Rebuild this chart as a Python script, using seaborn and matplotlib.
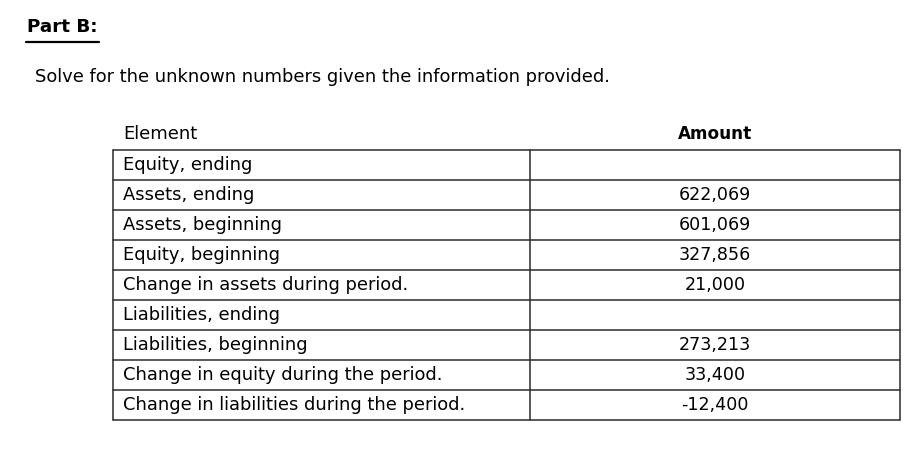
import matplotlib
matplotlib.use("Agg")
import matplotlib.pyplot as plt
import seaborn as sns

# Datos de la tabla
titulo = "Part B:"
instruccion = "Solve for the unknown numbers given the information provided."
encabezados = ["Element", "Amount"]
elementos = [
    "Equity, ending",
    "Assets, ending",
    "Assets, beginning",
    "Equity, beginning",
    "Change in assets during period.",
    "Liabilities, ending",
    "Liabilities, beginning",
    "Change in equity during the period.",
    "Change in liabilities during the period.",
]
montos = ["", "622,069", "601,069", "327,856", "21,000", "", "273,213", "33,400", "-12,400"]

sns.set_theme(style="white")
plt.rcParams["font.family"] = ["DejaVu Sans"]

fig = plt.figure(figsize=(9.18, 4.74), dpi=100)
ax = fig.add_axes([0, 0, 1, 1])
ax.set_xlim(0, 918)
ax.set_ylim(474, 0)
ax.axis("off")

tam = 12.9

# Titulo subrayado e instruccion
ax.text(27, 27, titulo, fontsize=13.2, fontweight="bold", va="center", ha="left", color="black")
ax.plot([26, 99], [42, 42], color="black", lw=1.6)
ax.text(35, 77, instruccion, fontsize=tam, va="center", ha="left", color="black")

# Geometria de la tabla
x_izq, x_div, x_der = 113, 530, 900
y_top, alto = 150, 30
n = len(elementos)
y_bot = y_top + n * alto
color_linea = "#2b2b2b"

ax.text(x_izq + 10, y_top - 16, encabezados[0], fontsize=tam, va="center", ha="left", color="black")
ax.text((x_div + x_der) / 2, y_top - 16, encabezados[1], fontsize=12.2, fontweight="bold",
        va="center", ha="center", color="black")

for i in range(n + 1):
    ax.plot([x_izq, x_der], [y_top + i * alto] * 2, color=color_linea, lw=1.1)
for x in (x_izq, x_div, x_der):
    ax.plot([x, x], [y_top, y_bot], color=color_linea, lw=1.1)

for i, (el, m) in enumerate(zip(elementos, montos)):
    yc = y_top + i * alto + alto / 2
    ax.text(x_izq + 10, yc, el, fontsize=tam, va="center", ha="left", color="black")
    if m:
        ax.text((x_div + x_der) / 2, yc, m, fontsize=12.6, va="center", ha="center", color="black")

fig.savefig("out.png", dpi=100, facecolor="white")
